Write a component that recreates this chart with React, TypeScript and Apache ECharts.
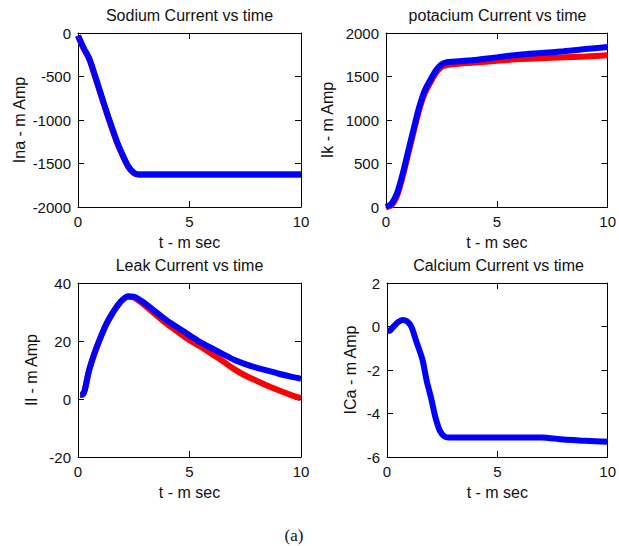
import React, { useEffect, useRef } from "react";
import * as echarts from "echarts";

const sodiumT = [0, 0.25, 0.5, 0.75, 1.0, 1.25, 1.5, 1.75, 2.0, 2.25, 2.5, 2.7, 3, 5, 10];
const sodiumRed = [-35, -178, -298, -490, -690, -890, -1080, -1260, -1408, -1538, -1610, -1627, -1627, -1627, -1627];
const sodiumBlue = [-30, -170, -290, -480, -680, -880, -1070, -1250, -1400, -1530, -1605, -1625, -1625, -1625, -1625];

const potT = [0, 0.25, 0.5, 0.75, 1.0, 1.25, 1.5, 1.75, 2.0, 2.25, 2.5, 2.75, 3, 4, 5, 6, 7, 8, 9, 10];
const potRed = [0, 20, 130, 350, 610, 870, 1120, 1310, 1430, 1540, 1610, 1630, 1640, 1660, 1680, 1700, 1710, 1720, 1730, 1745];
const potBlue = [0, 40, 160, 380, 640, 900, 1150, 1340, 1460, 1570, 1640, 1665, 1670, 1690, 1720, 1750, 1770, 1790, 1815, 1840];

const leakT = [0.1, 0.2, 0.5, 0.75, 1.0, 1.25, 1.5, 1.75, 2.0, 2.25, 2.5, 2.75, 3, 3.5, 4, 4.5, 5, 5.5, 6, 6.5, 7, 7.5, 8, 8.5, 9, 9.5, 10];
const leakRed = [1.5, 1.5, 10, 16, 21, 25.5, 29, 32, 34.2, 35.3, 35, 33.8, 32.3, 29, 25.8, 23, 20.3, 18, 15.5, 13, 10.3, 8.1, 6.3, 4.6, 3, 1.5, 0.2];
const leakBlue = [1.5, 1.5, 10, 16, 21, 25.5, 29, 32, 34.2, 35.4, 35.3, 34.3, 33, 30, 27, 24.5, 22, 19.5, 17.5, 15.5, 13.5, 12, 10.8, 9.8, 8.7, 7.8, 7];

const calT = [0, 0.1, 0.3, 0.5, 0.7, 0.9, 1.1, 1.3, 1.6, 1.8, 2.0, 2.2, 2.4, 2.6, 2.8, 5, 7, 8, 9, 10];
const calBlue = [-0.2, -0.2, 0, 0.2, 0.3, 0.25, 0, -0.6, -1.5, -2.5, -3.3, -4.2, -4.8, -5.05, -5.1, -5.1, -5.1, -5.2, -5.25, -5.3];

const titles = ["Sodium Current vs time", "potacium Current vs time", "Leak Current vs time", "Calcium Current vs time"];
const yNames = ["Ina - m Amp", "Ik - m Amp", "Il - m Amp", "ICa - m Amp"];
const xName = "t - m sec";
const yRanges = [
  [-2000, 0, 500],
  [0, 2000, 500],
  [-20, 40, 20],
  [-6, 2, 2],
];
const xTicks = [0, 10, 5];
const caption = "(a)";

const zip = (t: number[], v: number[]) => t.map((x, i) => [x, v[i]]);

export default function App() {
  const ref = useRef<HTMLDivElement>(null);
  useEffect(() => {
    if (!ref.current) return;
    const chart = echarts.init(ref.current, undefined, { renderer: "svg" });
    const boxes = [
      { left: 78, top: 33 },
      { left: 386, top: 33 },
      { left: 78, top: 283 },
      { left: 387, top: 283 },
    ];
    const W = 223;
    const H = 174;
    const yGaps = [51, 51, 39, 29];
    const font = "Liberation Sans, Arial, sans-serif";
    const grid = boxes.map((b) => ({ left: b.left, top: b.top, width: W, height: H, containLabel: false }));
    const xAxis: any[] = [];
    const yAxis: any[] = [];
    const fmt = (v: number) => String(v);
    boxes.forEach((_, i) => {
      const base = {
        type: "value",
        gridIndex: i,
        min: xTicks[0],
        max: xTicks[1],
        interval: xTicks[2],
        splitLine: { show: false },
        axisLine: { show: true, onZero: false, lineStyle: { color: "#000", width: 1 } },
        axisTick: { show: true, inside: true, length: 6, lineStyle: { color: "#000" } },
      };
      xAxis.push({
        ...base,
        position: "bottom",
        name: xName,
        nameLocation: "middle",
        nameGap: 27,
        nameTextStyle: { color: "#111", fontSize: 16, fontFamily: font },
        axisLabel: { color: "#111", fontSize: 15, fontFamily: font, margin: 7, formatter: fmt },
      });
      xAxis.push({ ...base, position: "top", axisLabel: { show: false } });
      const yr = yRanges[i];
      const ybase = {
        type: "value",
        gridIndex: i,
        min: yr[0],
        max: yr[1],
        interval: yr[2],
        splitLine: { show: false },
        axisLine: { show: true, onZero: false, lineStyle: { color: "#000", width: 1 } },
        axisTick: { show: true, inside: true, length: 6, lineStyle: { color: "#000" } },
      };
      yAxis.push({
        ...ybase,
        position: "left",
        name: yNames[i],
        nameLocation: "middle",
        nameGap: yGaps[i],
        nameTextStyle: { color: "#111", fontSize: 16, fontFamily: font },
        axisLabel: { color: "#111", fontSize: 15, fontFamily: font, margin: 7, formatter: fmt },
      });
      yAxis.push({ ...ybase, position: "right", axisLabel: { show: false } });
    });
    const line = (i: number, data: number[][], color: string) => ({
      type: "line",
      xAxisIndex: i * 2,
      yAxisIndex: i * 2,
      data,
      showSymbol: false,
      symbol: "none",
      smooth: 0.3,
      lineStyle: { color, width: 6 },
      clip: true,
    });
    const series = [
      line(0, zip(sodiumT, sodiumRed), "#ff0000"),
      line(0, zip(sodiumT, sodiumBlue), "#0000ff"),
      line(1, zip(potT, potRed), "#ff0000"),
      line(1, zip(potT, potBlue), "#0000ff"),
      line(2, zip(leakT, leakRed), "#ff0000"),
      line(2, zip(leakT, leakBlue), "#0000ff"),
      line(3, zip(calT, calBlue), "#0000ff"),
    ];
    const graphic: any[] = boxes.map((b, i) => ({
      type: "text",
      x: b.left + W / 2,
      y: 15 + (i >= 2 ? 250 : 0),
      style: {
        text: titles[i],
        textAlign: "center",
        textVerticalAlign: "middle",
        font: `16px ${font}`,
        fill: "#111",
      },
    }));
    graphic.push({
      type: "text",
      x: 294,
      y: 535,
      style: {
        text: caption,
        textAlign: "center",
        textVerticalAlign: "middle",
        font: "17px 'Liberation Serif', 'Times New Roman', serif",
        fill: "#111",
      },
    });
    chart.setOption({
      animation: false,
      backgroundColor: "#fff",
      grid,
      xAxis,
      yAxis,
      series,
      graphic,
    });
    return () => chart.dispose();
  }, []);
  return (
    <div
      ref={ref}
      style={{ position: "absolute", left: 0, top: 0, width: 619, height: 546, background: "#fff" }}
    />
  );
}
